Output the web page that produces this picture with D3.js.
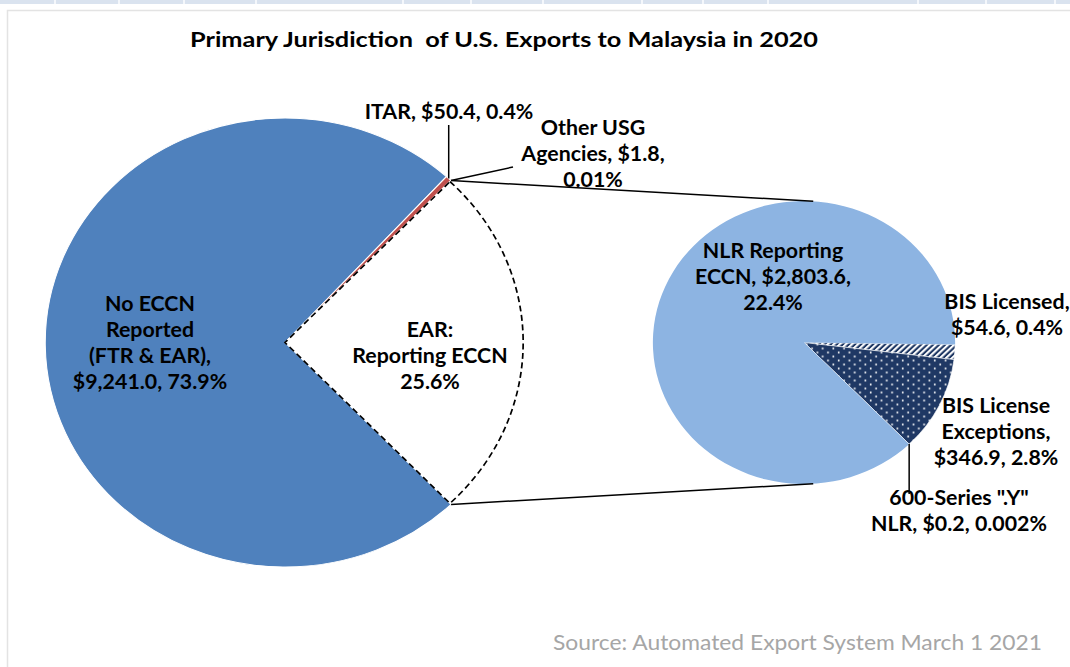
<!DOCTYPE html>
<html>
<head>
<meta charset="utf-8">
<script src="https://cdn.jsdelivr.net/npm/d3@7"></script>
<style>
  html, body { margin: 0; padding: 0; background: #fff; }
  svg { display: block; }
  .lbl { font-family: Lato, "Open Sans", sans-serif; font-weight: bold; font-size: 20px; fill: #000; }
</style>
</head>
<body>
<div id="chart-area"></div>
<script>
// primary pie (US$ millions)
const primaryNames  = ["EAR: Reporting ECCN", "No ECCN Reported (FTR & EAR)", "ITAR", "Other USG Agencies"];
const primaryValues = [3205.3, 9241.0, 50.4, 1.8];

// secondary pie = breakdown of "EAR: Reporting ECCN"
const secondaryNames  = ["BIS Licensed", "BIS License Exceptions", "600-Series \".Y\" NLR", "NLR Reporting ECCN"];
const secondaryValues = [54.6, 346.9, 0.2, 2803.6];

const primaryLabels = [
  ["EAR:", "Reporting ECCN", "25.6%"],
  ["No ECCN", "Reported", "(FTR & EAR),", "$9,241.0, 73.9%"],
  ["ITAR, $50.4, 0.4%"],
  ["Other USG", "Agencies, $1.8,", "0.01%"]
];
const secondaryLabels = [
  ["BIS Licensed,", "$54.6, 0.4%"],
  ["BIS License", "Exceptions,", "$346.9, 2.8%"],
  ["600-Series \".Y\"", "NLR, $0.2, 0.002%"],
  ["NLR Reporting", "ECCN, $2,803.6,", "22.4%"]
];

const titleText  = "Primary Jurisdiction  of U.S. Exports to Malaysia in 2020";
const sourceText = "Source: Automated Export System March 1 2021";

const W = 1070, H = 667;
const SX = 1.068;          // picture is slightly stretched horizontally
const deg = Math.PI / 180;

const big   = { cx: 285, cy: 342.5, r: 224.5 };
const small = { cx: 804, cy: 342.5, r: 141.5 };

const primaryColors   = ["#ffffff", "#4f81bd", "#c0504d", "#9bbb59"];
const secondaryFills  = ["url(#hatch)", "url(#dots)", "#1f3864", "#8db4e2"];

const svg = d3.select("#chart-area").append("svg")
  .attr("width", W).attr("height", H);

// spreadsheet strip behind the chart
const cols = [0, 55, 119, 184, 256, 403, 471, 543, 642, 703, 768, 918, 986, 1055, 1070];
svg.append("rect").attr("x", 0).attr("y", 0).attr("width", W).attr("height", 4).attr("fill", "#dae3ef");
svg.selectAll(".colsep").data(cols.slice(1, -1)).enter().append("rect")
  .attr("x", d => d - 1).attr("y", 0).attr("width", 2).attr("height", 4).attr("fill", "#f4f7fb");

svg.append("rect")
  .attr("x", 7.5).attr("y", 10.5).attr("width", W + 20).attr("height", H + 20)
  .attr("fill", "#fff").attr("stroke", "#e3e3e3").attr("stroke-width", 1.5);

// patterns
const defs = svg.append("defs");
const hatch = defs.append("pattern").attr("id", "hatch")
  .attr("width", 4).attr("height", 4).attr("patternUnits", "userSpaceOnUse")
  .attr("patternTransform", "rotate(45)");
hatch.append("rect").attr("width", 4).attr("height", 4).attr("fill", "#1f3864");
hatch.append("rect").attr("width", 2).attr("height", 4).attr("fill", "#fff");

const dots = defs.append("pattern").attr("id", "dots")
  .attr("width", 10).attr("height", 8).attr("patternUnits", "userSpaceOnUse");
dots.append("rect").attr("width", 10).attr("height", 8).attr("fill", "#1f3864");
dots.append("circle").attr("cx", 2.5).attr("cy", 2).attr("r", 0.9).attr("fill", "#fff");
dots.append("circle").attr("cx", 7.5).attr("cy", 6).attr("r", 0.9).attr("fill", "#fff");

// pie layouts
const earShare = primaryValues[0] / d3.sum(primaryValues);
const start1 = Math.PI / 2 - earShare * Math.PI;
const pie1 = d3.pie().sort(null).value(d => d)
  .startAngle(start1).endAngle(start1 + 2 * Math.PI);
const arcs1 = pie1(primaryValues);

const start2 = 90.8 * deg;
const pie2 = d3.pie().sort(null).value(d => d)
  .startAngle(start2).endAngle(start2 + 2 * Math.PI);
const arcs2 = pie2(secondaryValues);

const arc1 = d3.arc().innerRadius(0).outerRadius(big.r);
const arc2 = d3.arc().innerRadius(0).outerRadius(small.r);

function pt(p, a, r) {
  r = r === undefined ? p.r : r;
  return [p.cx + SX * r * Math.sin(a), p.cy - r * Math.cos(a)];
}

// left pie
const g1 = svg.append("g")
  .attr("transform", "translate(" + big.cx + "," + big.cy + ") scale(" + SX + ",1)");
g1.selectAll("path.s1").data(arcs1).enter().append("path")
  .attr("class", "s1")
  .attr("d", arc1)
  .attr("fill", (d, i) => primaryColors[i])
  .attr("stroke", "#fff")
  .attr("stroke-width", 1);
// dashed outline for the exploded slice
g1.append("path")
  .attr("d", d3.arc().innerRadius(0).outerRadius(big.r - 1.5)(arcs1[0]))
  .attr("fill", "none")
  .attr("stroke", "#000")
  .attr("stroke-width", 1.6)
  .attr("stroke-dasharray", "6,3.5");

// right pie
const g2 = svg.append("g")
  .attr("transform", "translate(" + small.cx + "," + small.cy + ") scale(" + SX + ",1)");
g2.selectAll("path.s2").data(arcs2).enter().append("path")
  .attr("class", "s2")
  .attr("d", arc2)
  .attr("fill", (d, i) => secondaryFills[i])
  .attr("stroke", (d, i) => i === 3 ? "none" : "#fff")
  .attr("stroke-width", 0.6);

// connector lines between the pies
const lineFn = d3.line();
const conn = [
  [pt(big, arcs1[0].startAngle), pt(small, 3.5 * deg)],
  [pt(big, arcs1[0].endAngle),   pt(small, 176.5 * deg)]
];
svg.selectAll(".conn").data(conn).enter().append("path")
  .attr("class", "conn")
  .attr("d", lineFn)
  .attr("stroke", "#000").attr("stroke-width", 1.5).attr("fill", "none");

// leader lines
const itarPt  = pt(big, (arcs1[2].startAngle + arcs1[2].endAngle) / 2);
const otherPt = pt(big, (arcs1[3].startAngle + arcs1[3].endAngle) / 2);
const y600Pt  = pt(small, (arcs2[2].startAngle + arcs2[2].endAngle) / 2);
const leaders = [
  [itarPt, [itarPt[0], 125]],
  [otherPt, [513, 167]],
  [y600Pt, [y600Pt[0], 494]]
];
svg.selectAll(".leader").data(leaders).enter().append("path")
  .attr("class", "leader")
  .attr("d", lineFn)
  .attr("stroke", "#000").attr("stroke-width", 1.5).attr("fill", "none");

// labels: [lines, centre x, first baseline, colour]
const lh = 26;
const labelLayout = [
  [primaryLabels[0], 430, 337, "#000"],
  [primaryLabels[1], 150, 311, "#fff"],
  [primaryLabels[2], 449, 119, "#000"],
  [primaryLabels[3], 593, 135, "#000"],
  [secondaryLabels[0], 1007, 309, "#000"],
  [secondaryLabels[1], 996, 413, "#000"],
  [secondaryLabels[2], 959, 505, "#000"],
  [secondaryLabels[3], 773, 258, "#000"]
];
labelLayout.forEach(([lines, x, y, col]) => {
  const t = svg.append("g")
    .attr("transform", "translate(" + x + "," + y + ") scale(" + SX + ",1)")
    .append("text").attr("class", "lbl")
    .attr("text-anchor", "middle").attr("fill", col);
  lines.forEach((s, i) => {
    t.append("tspan").attr("x", 0).attr("y", i * lh).text(s);
  });
});

// title and source
svg.append("text")
  .attr("x", 190).attr("y", 47)
  .attr("textLength", 628).attr("lengthAdjust", "spacingAndGlyphs")
  .style("font-family", "Lato, sans-serif").style("font-weight", "bold").style("font-size", "21.5px")
  .style("white-space", "pre")
  .text(titleText);

svg.append("text")
  .attr("x", 553).attr("y", 650)
  .attr("textLength", 489).attr("lengthAdjust", "spacingAndGlyphs")
  .style("font-family", "Lato, sans-serif").style("font-size", "21px")
  .attr("fill", "#a6a6a6")
  .text(sourceText);
</script>
</body>
</html>
